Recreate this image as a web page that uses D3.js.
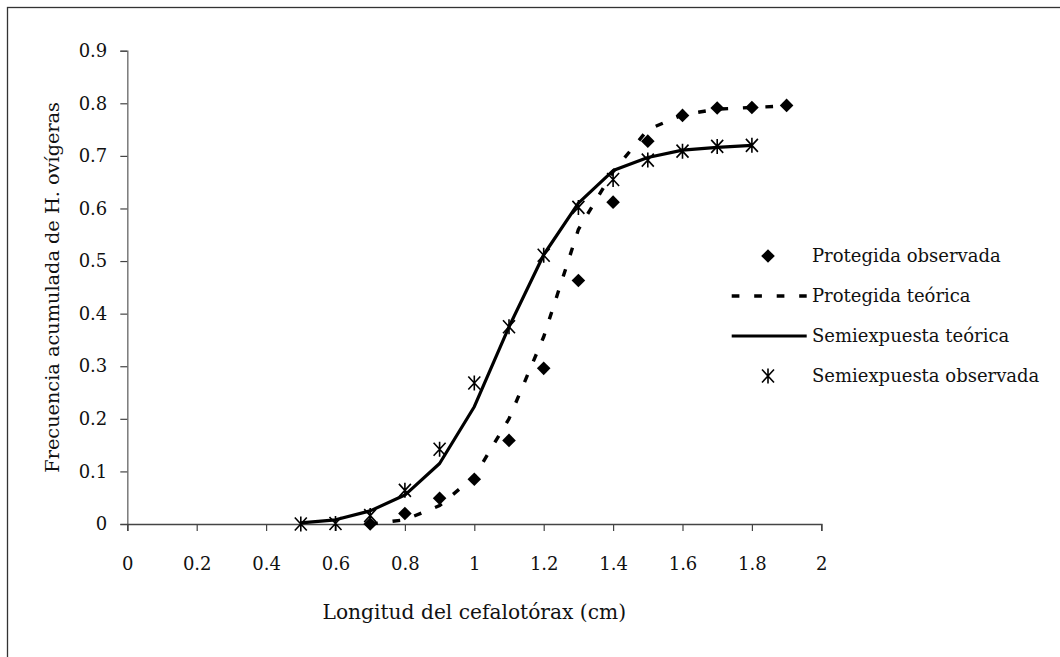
<!DOCTYPE html>
<html>
<head>
<meta charset="utf-8">
<script src="https://cdn.jsdelivr.net/npm/d3@7"></script>
<style>
  html, body { margin: 0; padding: 0; background: #fff; }
  svg { display: block; }
  text { font-family: "DejaVu Serif", "Liberation Serif", serif; fill: #111; }
</style>
</head>
<body>
<svg id="chart" width="1060" height="657"></svg>
<script>
// Cumulative frequency of ovigerous females by carapace length
const protegidaX = [0.7, 0.8, 0.9, 1.0, 1.1, 1.2, 1.3, 1.4, 1.5, 1.6, 1.7, 1.8, 1.9];
const protegidaObservada = [0, 0.02, 0.049, 0.085, 0.159, 0.296, 0.463, 0.612, 0.728, 0.777, 0.791, 0.792, 0.796];
const protegidaTeorica   = [0, 0.008, 0.035, 0.09, 0.2, 0.356, 0.56, 0.67, 0.75, 0.778, 0.789, 0.792, 0.795];

const semiX = [0.5, 0.6, 0.7, 0.8, 0.9, 1.0, 1.1, 1.2, 1.3, 1.4, 1.5, 1.6, 1.7, 1.8];
const semiexpuestaTeorica   = [0.002, 0.008, 0.025, 0.055, 0.115, 0.223, 0.375, 0.512, 0.61, 0.672, 0.697, 0.711, 0.716, 0.72];
const semiexpuestaObservada = [0, 0.001, 0.016, 0.064, 0.142, 0.268, 0.375, 0.511, 0.602, 0.655, 0.692, 0.709, 0.718, 0.72];

const xTicks = [0, 0.2, 0.4, 0.6, 0.8, 1, 1.2, 1.4, 1.6, 1.8, 2];
const yTicks = [0, 0.1, 0.2, 0.3, 0.4, 0.5, 0.6, 0.7, 0.8, 0.9];

const legendLabels = ["Protegida observada", "Protegida teórica", "Semiexpuesta teórica", "Semiexpuesta observada"];
const xTitle = "Longitud del cefalotórax (cm)";
const yTitle = "Frecuencia acumulada de H. ovígeras";

const svg = d3.select("#chart");
const FONT = 18;

// outer frame
svg.append("rect")
  .attr("x", 7.5).attr("y", 7.5)
  .attr("width", 1200).attr("height", 800)
  .attr("fill", "none").attr("stroke", "#333").attr("stroke-width", 1.3);

const x = d3.scaleLinear().domain([0, 2]).range([127.3, 821.3]);
const y = d3.scaleLinear().domain([0, 0.9]).range([524, 50.7]);

const fmt = d => d === 0 ? "0" : (Number.isInteger(d) ? String(d) : d3.format(".1f")(d));

// y axis
const gy = svg.append("g").attr("transform", `translate(${x(0)},0)`)
  .call(d3.axisLeft(y).tickValues(yTicks).tickSize(7).tickPadding(13).tickFormat(fmt));
gy.select(".domain").attr("stroke", "#7a7a7a").attr("stroke-width", 1.5);
gy.selectAll(".tick line").attr("stroke", "#444").attr("stroke-width", 1.2);
gy.selectAll(".tick text").attr("font-size", FONT).attr("font-family", "DejaVu Serif").attr("fill", "#111");

// x axis
const gx = svg.append("g").attr("transform", `translate(0,${y(0)})`)
  .call(d3.axisBottom(x).tickValues(xTicks).tickSize(7).tickPadding(26).tickFormat(fmt));
gx.select(".domain").attr("stroke", "#444").attr("stroke-width", 1.5);
gx.selectAll(".tick line").attr("stroke", "#444").attr("stroke-width", 1.2);
gx.selectAll(".tick text").attr("font-size", FONT).attr("font-family", "DejaVu Serif").attr("fill", "#111");

// axis titles
svg.append("text")
  .attr("x", x(1)).attr("y", 619)
  .attr("text-anchor", "middle").attr("font-size", 20.2)
  .text(xTitle);
svg.append("text")
  .attr("transform", `translate(59,${(y(0) + y(0.9)) / 2}) rotate(-90)`)
  .attr("text-anchor", "middle").attr("font-size", 19.3)
  .text(yTitle);

const line = d3.line().x(d => x(d[0])).y(d => y(d[1]));
const DASH = "7.7,14.8";

// marker shapes
const diamond = (g, cx, cy) => g.append("path")
  .attr("d", `M${cx},${cy - 6.8}L${cx + 6.8},${cy}L${cx},${cy + 6.8}L${cx - 6.8},${cy}Z`)
  .attr("fill", "#000");
const star = (g, cx, cy) => g.append("path")
  .attr("d", `M${cx - 6},${cy - 6.5}L${cx + 6},${cy + 6.5}M${cx + 6},${cy - 6.5}L${cx - 6},${cy + 6.5}M${cx},${cy - 7.5}L${cx},${cy + 7.5}`)
  .attr("fill", "none").attr("stroke", "#000").attr("stroke-width", 1.6);

const plot = svg.append("g");

// Protegida observada
protegidaX.forEach((v, i) => diamond(plot, x(v), y(protegidaObservada[i])));

// Protegida teórica
plot.append("path")
  .datum(protegidaX.map((v, i) => [v, protegidaTeorica[i]]))
  .attr("d", line).attr("fill", "none").attr("stroke", "#000")
  .attr("stroke-width", 3.4).attr("stroke-dasharray", DASH);

// Semiexpuesta teórica
plot.append("path")
  .datum(semiX.map((v, i) => [v, semiexpuestaTeorica[i]]))
  .attr("d", line).attr("fill", "none").attr("stroke", "#000")
  .attr("stroke-width", 3.2).attr("stroke-linejoin", "round");

// Semiexpuesta observada
semiX.forEach((v, i) => star(plot, x(v), y(semiexpuestaObservada[i])));

// legend
const lg = svg.append("g");
const rowY = [256, 296, 336, 376];
const symX = 768, lineX0 = 731.7, lineX1 = 806.7, textX = 812;
diamond(lg, symX, rowY[0]);
lg.append("line").attr("x1", lineX0).attr("x2", lineX1).attr("y1", rowY[1]).attr("y2", rowY[1])
  .attr("stroke", "#000").attr("stroke-width", 3.4).attr("stroke-dasharray", DASH);
lg.append("line").attr("x1", lineX0).attr("x2", lineX1).attr("y1", rowY[2]).attr("y2", rowY[2])
  .attr("stroke", "#000").attr("stroke-width", 3.2);
star(lg, symX, rowY[3]);
legendLabels.forEach((t, i) => lg.append("text")
  .attr("x", textX).attr("y", rowY[i]).attr("dy", "0.35em")
  .attr("font-size", FONT).text(t));
</script>
</body>
</html>
